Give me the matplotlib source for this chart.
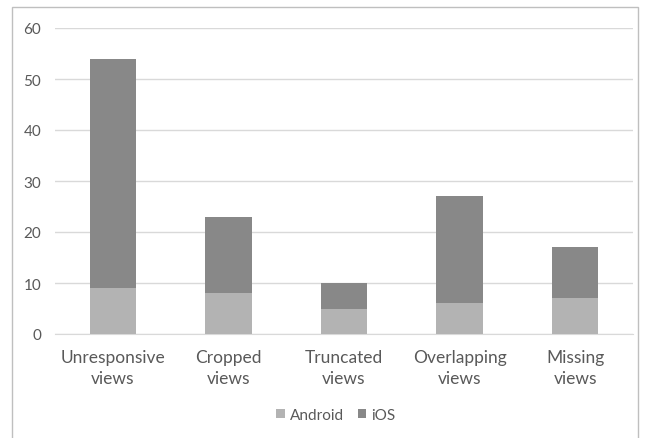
import matplotlib.pyplot as plt
from matplotlib.patches import Rectangle

categories = ['Unresponsive\nviews', 'Cropped\nviews', 'Truncated\nviews', 'Overlapping\nviews', 'Missing\nviews']
android = [9, 8, 5, 6, 7]
ios = [45, 15, 5, 21, 10]
yticks = [0, 10, 20, 30, 40, 50, 60]

W, H = 654, 439
fig = plt.figure(figsize=(W / 100, H / 100), dpi=100)
plt.rcParams['font.family'] = ['Lato', 'DejaVu Sans']

# plot area in pixels: x 55..633, y 29..335
ax = fig.add_axes([55 / W, 1 - 335 / H, (633 - 55) / W, (335 - 29) / H])

x = range(len(categories))
ax.bar(x, android, width=0.4, color='#b3b3b3', label='Android', zorder=3)
ax.bar(x, ios, width=0.4, bottom=android, color='#888888', label='iOS', zorder=3)

ax.set_xlim(-0.5, len(categories) - 0.5)
ax.set_ylim(0, 60)
ax.set_yticks(yticks)
ax.grid(axis='y', color='#d9d9d9', linewidth=1, zorder=0)
for s in ['top', 'right', 'left']:
    ax.spines[s].set_visible(False)
ax.spines['bottom'].set_color('#d9d9d9')
ax.tick_params(axis='both', length=0, colors='#595959')
ax.tick_params(axis='y', labelsize=11, pad=10)
ax.set_xticks(list(x))
ax.set_xticklabels(categories, fontsize=12.5, linespacing=1.35)
ax.tick_params(axis='x', pad=11)

fig.legend(loc='center', bbox_to_anchor=(336 / W, 1 - 416 / H), ncol=2, frameon=False,
           fontsize=11, handlelength=0.55, handleheight=0.55, handletextpad=0.35,
           columnspacing=0.9, labelcolor='#595959')

fig.patches.append(Rectangle((12 / W, -0.1), (638 - 12) / W, 1.1 - 8 / H,
                             transform=fig.transFigure, fill=False,
                             edgecolor='#bfbfbf', linewidth=1))

fig.savefig('out.png', dpi=100, facecolor='white')
